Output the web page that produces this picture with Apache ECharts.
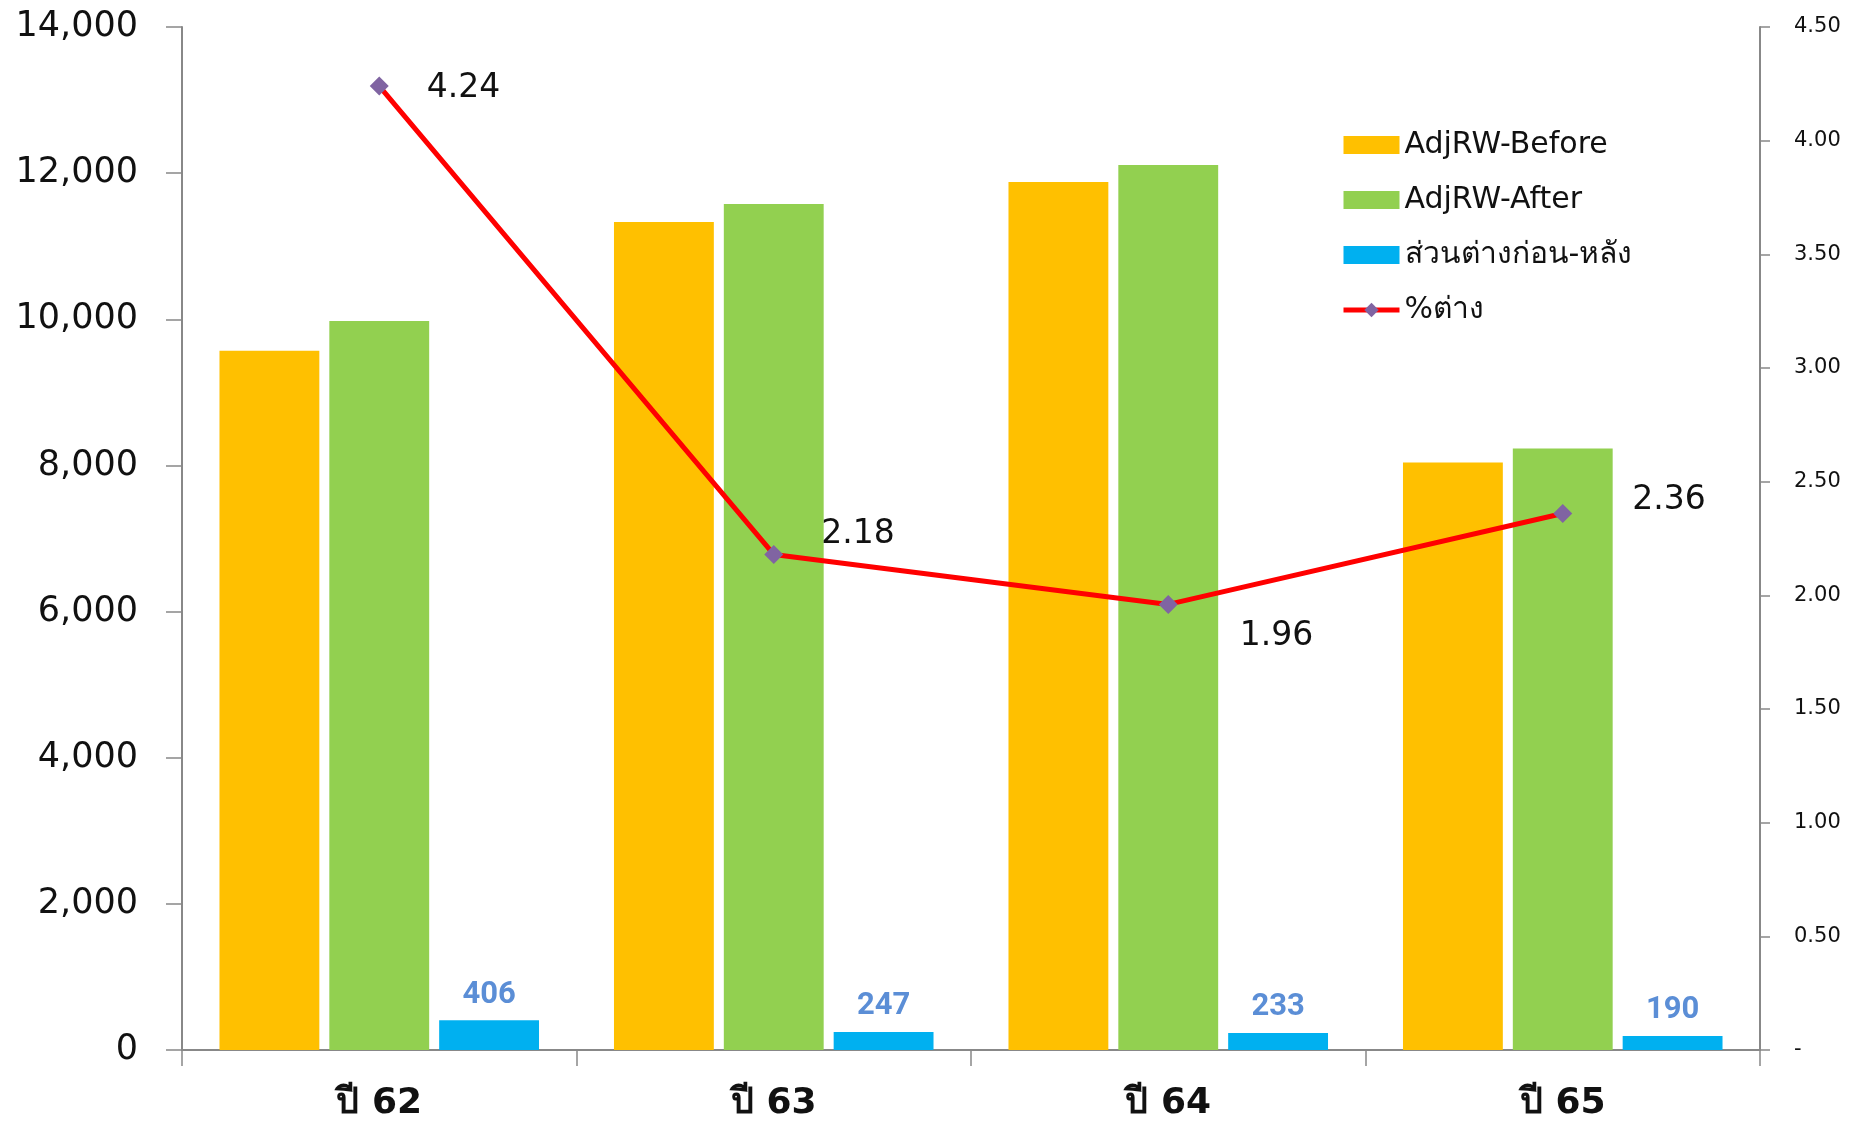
<!DOCTYPE html>
<html>
<head>
<meta charset="utf-8">
<script src="https://cdn.jsdelivr.net/npm/echarts@6/dist/echarts.min.js"></script>
<style>html,body{margin:0;padding:0;background:#fff}#c{width:1854px;height:1122px}</style>
</head>
<body>
<div id="c"></div>
<script>
const categories = ['ปี 62', 'ปี 63', 'ปี 64', 'ปี 65'];
const adjBefore = [9570, 11330, 11880, 8040];
const adjAfter = [9976, 11577, 12113, 8230];
const diffValues = [406, 247, 233, 190];
const pctDiff = [4.24, 2.18, 1.96, 2.36];
const seriesNames = ['AdjRW-Before', 'AdjRW-After', 'ส่วนต่างก่อน-หลัง', '%ต่าง'];

const pctLabelStyle = [
  {distance: 38, offset: [0, 2]},
  {distance: 38, offset: [0, -20]},
  {distance: 38, offset: [24, 32]},
  {distance: 38, offset: [22, -13]}
];

const FONT = '"DejaVu Sans", "Noto Sans", sans-serif';
const axisGray = '#888888';

const chart = echarts.init(document.getElementById('c'), null, {renderer: 'canvas'});
chart.setOption({
  animation: false,
  backgroundColor: '#ffffff',
  grid: {left: 182, right: 94, top: 27, bottom: 70, containLabel: false},
  legend: {
    orient: 'vertical',
    left: 1336,
    top: 125,
    itemWidth: 56,
    itemHeight: 18,
    itemGap: 25,
    textStyle: {fontFamily: FONT, fontSize: 30, color: '#111'},
    data: [
      {name: seriesNames[0], icon: 'rect'},
      {name: seriesNames[1], icon: 'rect'},
      {name: seriesNames[2], icon: 'rect'},
      {name: seriesNames[3], lineStyle: {width: 5, color: '#FF0000'}}
    ]
  },
  xAxis: {
    type: 'category',
    data: categories,
    axisLine: {lineStyle: {color: axisGray, width: 2}},
    axisTick: {show: true, length: 16, lineStyle: {color: axisGray, width: 1.5}},
    axisLabel: {margin: 36, fontFamily: FONT, fontSize: 36, fontWeight: 'bold', color: '#111'}
  },
  yAxis: [
    {
      type: 'value', min: 0, max: 14000, interval: 2000,
      splitLine: {show: false},
      axisLine: {show: true, lineStyle: {color: axisGray, width: 2}},
      axisTick: {show: true, length: 16, lineStyle: {color: axisGray, width: 1.5}},
      axisLabel: {margin: 44, fontFamily: FONT, fontSize: 35, color: '#111',
        formatter: v => v.toLocaleString('en-US')}
    },
    {
      type: 'value', min: 0, max: 4.5, interval: 0.5,
      splitLine: {show: false},
      axisLine: {show: true, lineStyle: {color: axisGray, width: 2}},
      axisTick: {show: true, length: 10, lineStyle: {color: axisGray, width: 1.5}},
      axisLabel: {margin: 34, fontFamily: FONT, fontSize: 21, color: '#111', align: 'left',
        formatter: v => v === 0 ? '-' : v.toFixed(2)}
    }
  ],
  series: [
    {name: seriesNames[0], type: 'bar', data: adjBefore, barGap: '10%', barCategoryGap: '19%',
      itemStyle: {color: '#FFC000'}},
    {name: seriesNames[1], type: 'bar', data: adjAfter,
      itemStyle: {color: '#92D050'}},
    {name: seriesNames[2], type: 'bar', data: diffValues,
      itemStyle: {color: '#00B0F0'},
      label: {show: true, position: 'top', distance: 10, fontFamily: '"Liberation Sans Narrow", "Roboto", sans-serif',
        fontSize: 31, fontWeight: 'bold', color: '#5B8ED6'}},
    {name: seriesNames[3], type: 'line', yAxisIndex: 1,
      data: pctDiff.map((v, i) => ({value: v, label: {distance: pctLabelStyle[i].distance, offset: pctLabelStyle[i].offset}})),
      symbol: 'diamond', symbolSize: 19,
      lineStyle: {color: '#FF0000', width: 5},
      itemStyle: {color: '#8064A2'},
      z: 5,
      label: {show: true, position: 'right', fontFamily: FONT, fontSize: 33, color: '#111',
        formatter: p => p.value.toFixed(2)}}
  ]
});
</script>
</body>
</html>
